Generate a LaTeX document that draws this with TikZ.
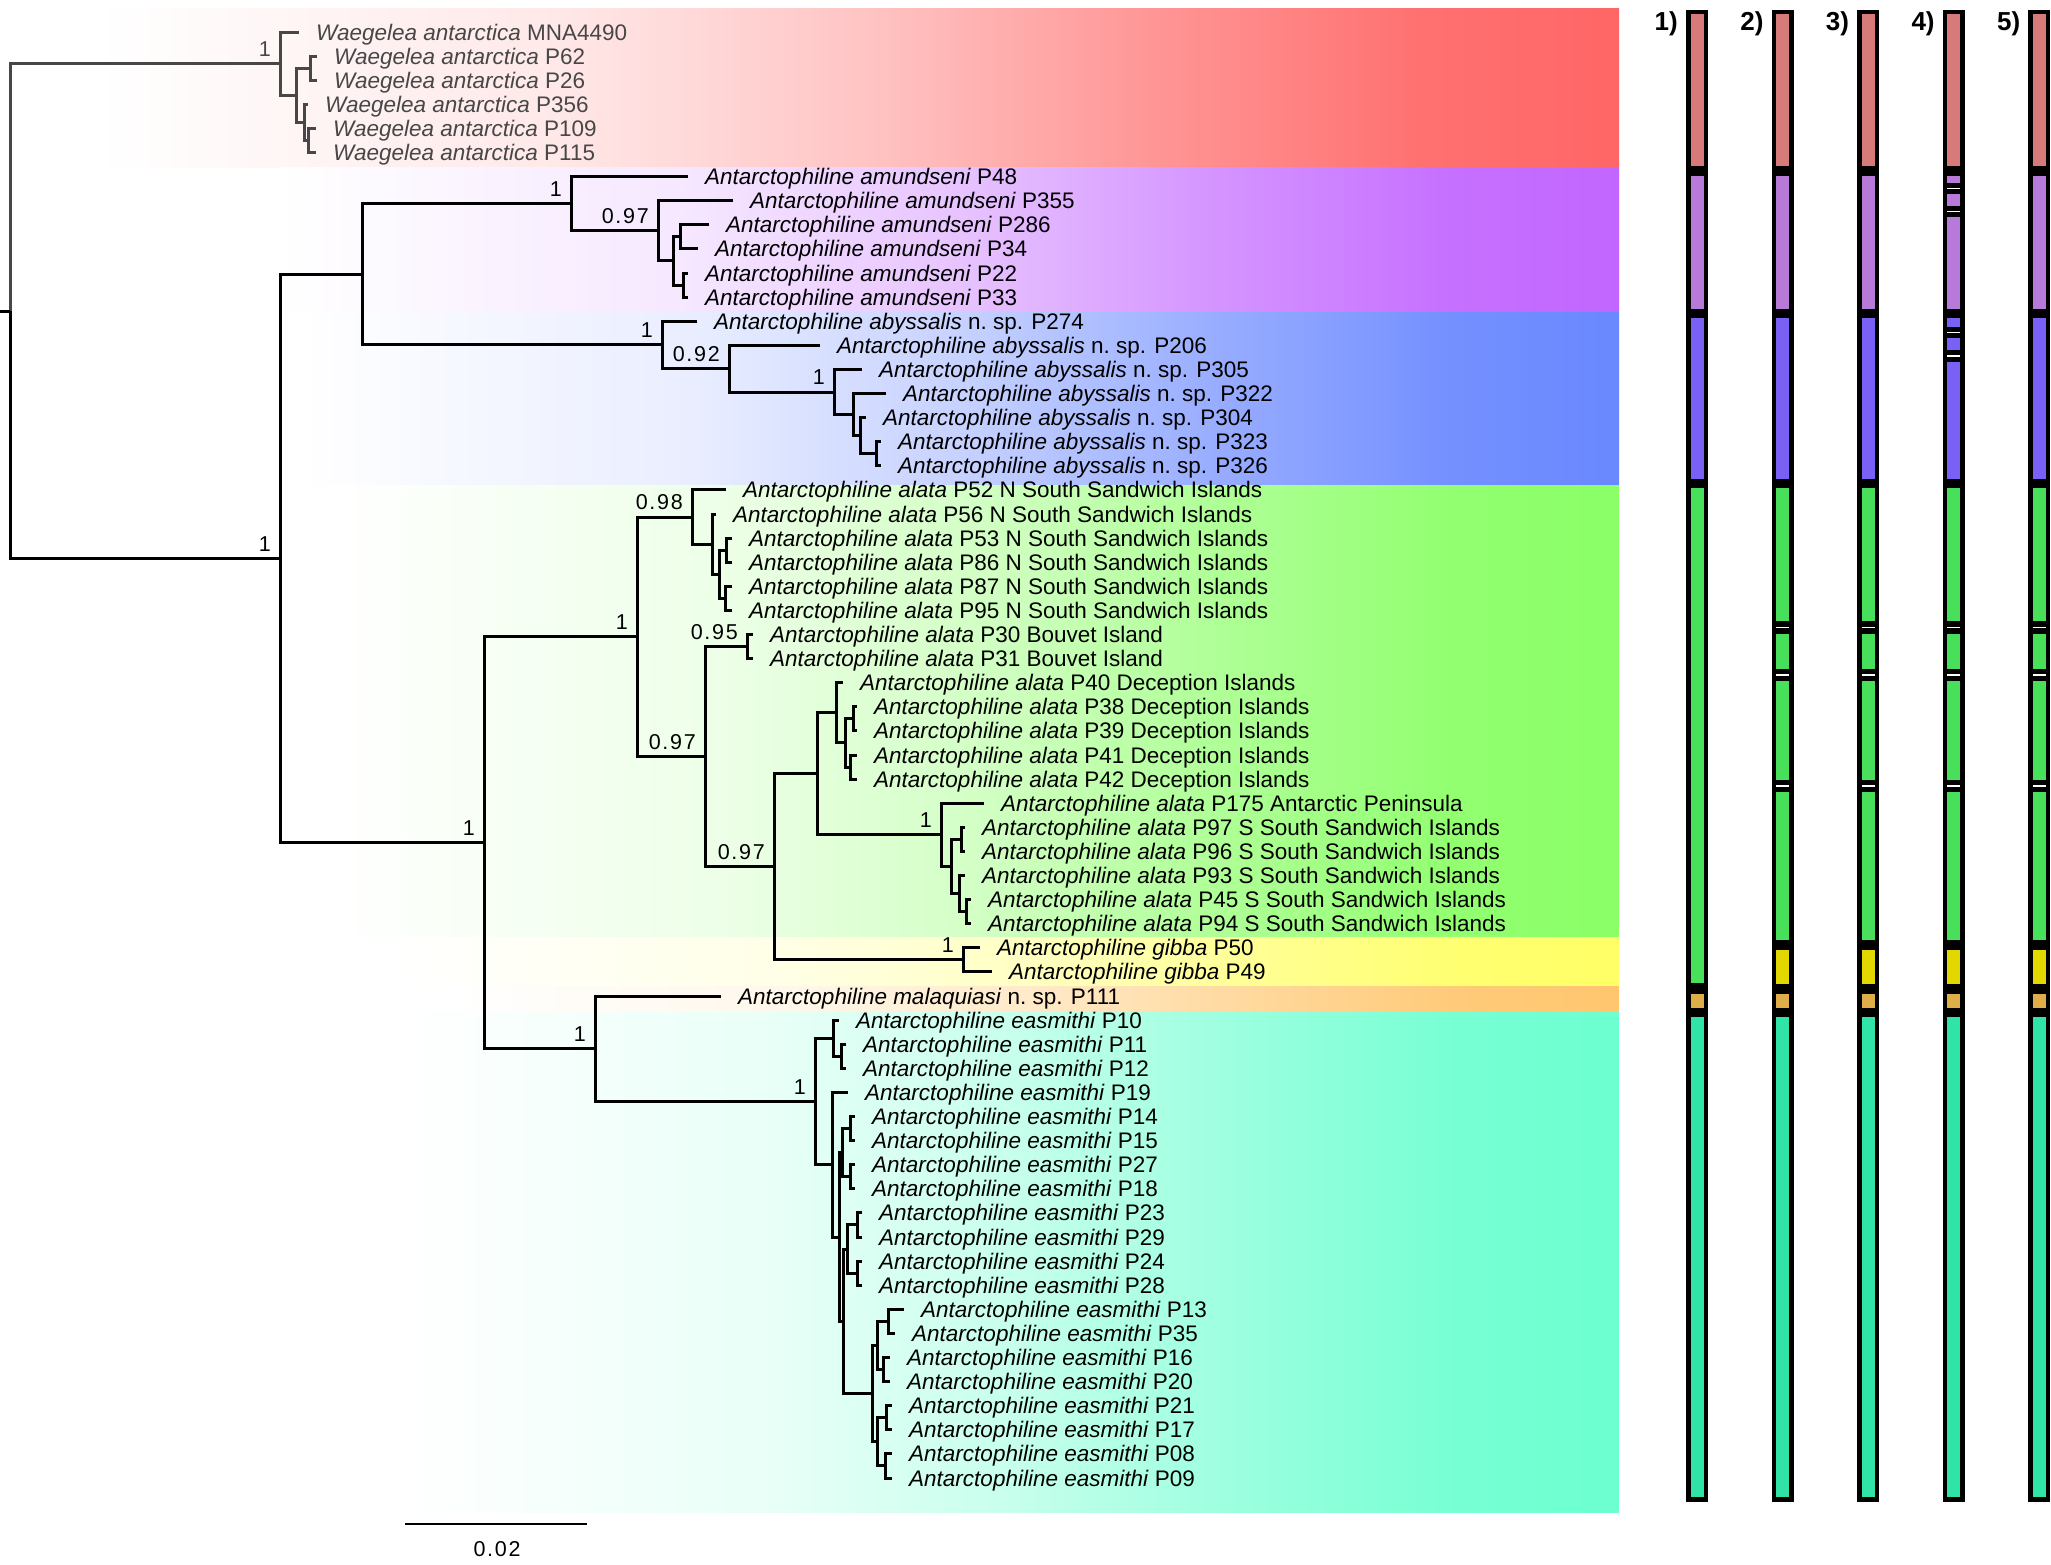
\documentclass[tikz,border=0pt]{standalone}
\usepackage{fontspec}
\setmainfont{Liberation Sans}
\newfontfamily\supfont[LetterSpace=8]{Liberation Sans}
\usetikzlibrary{positioning}

% band colours (right end of each clade band)
\definecolor{bandred}{HTML}{FF6666}
\definecolor{bandpurple}{HTML}{C266FF}
\definecolor{bandblue}{HTML}{6A88FF}
\definecolor{bandgreen}{HTML}{8AFF66}
\definecolor{bandyellow}{HTML}{FFFF66}
\definecolor{bandorange}{HTML}{FFC66E}
\definecolor{bandteal}{HTML}{6CFFCF}
% bar colours
\definecolor{barred}{HTML}{D77A7A}
\definecolor{barpurple}{HTML}{B77AD8}
\definecolor{barblue}{HTML}{7B60F6}
\definecolor{bargreen}{HTML}{48E05A}
\definecolor{baryellow}{HTML}{E2D800}
\definecolor{barorange}{HTML}{E0AE48}
\definecolor{barteal}{HTML}{30E4A8}
\colorlet{waegrey}{black!72}
\colorlet{bandcol}{white}

\pgfdeclarehorizontalshading[bandcol]{bandfade}{100bp}{color(0bp)=(white); color(25bp)=(white);
  color(40bp)=(bandcol!15!white); color(50bp)=(bandcol!38!white); color(60bp)=(bandcol!70!white);
  color(68.5bp)=(bandcol!93!white); color(75bp)=(bandcol); color(100bp)=(bandcol)}

\newcommand{\wae}{\color{waegrey}\textit{Waegelea antarctica}}
\newcommand{\amu}{\textit{Antarctophiline amundseni}}
\newcommand{\aby}{\textit{Antarctophiline abyssalis} n.\ sp.}
\newcommand{\ala}{\textit{Antarctophiline alata}}
\newcommand{\gib}{\textit{Antarctophiline gibba}}
\newcommand{\mal}{\textit{Antarctophiline malaquiasi} n.\ sp.}
\newcommand{\eas}{\textit{Antarctophiline easmithi}}

\begin{document}
\begin{tikzpicture}[x=1pt, y=-1pt,
    branch/.style={line width=3pt},
    leaf/.style={font=\fontsize{22.5}{27}\selectfont, inner sep=0pt, text height=16.1pt, text depth=0pt},
    supfnt/.style={font=\supfont\fontsize{21.5}{26}\selectfont, inner sep=0pt, text height=15.4pt, text depth=0pt},
    support/.style={supfnt, anchor=south east, xshift=-9pt, yshift=7pt},
    barlab/.style={font=\bfseries\fontsize{26}{30}\selectfont, inner sep=0pt}]

    \useasboundingbox (0,0) rectangle (2051,1564);

    % Shade the clade bands
    \colorlet{bandcol}{bandred}\shade[shading=bandfade] (100,8) rectangle (1619,167);
    \colorlet{bandcol}{bandpurple}\shade[shading=bandfade] (280,167) rectangle (1619,312);
    \colorlet{bandcol}{bandblue}\shade[shading=bandfade] (300,312) rectangle (1619,485);
    \colorlet{bandcol}{bandgreen}\shade[shading=bandfade] (330,485) rectangle (1619,937);
    \colorlet{bandcol}{bandyellow}\shade[shading=bandfade] (400,937) rectangle (1619,986);
    \colorlet{bandcol}{bandorange}\shade[shading=bandfade] (450,986) rectangle (1619,1011);
    \colorlet{bandcol}{bandteal}\shade[shading=bandfade] (400,1011) rectangle (1619,1512);

    % Leaves: tip and label
    \foreach \i/\x/\txt in {
        0/299/\wae{} MNA4490, 1/317/\wae{} P62, 2/317/\wae{} P26,
        3/308/\wae{} P356, 4/316/\wae{} P109, 5/316/\wae{} P115,
        6/688/\amu{} P48, 7/733/\amu{} P355, 8/709/\amu{} P286,
        9/698/\amu{} P34, 10/688/\amu{} P22, 11/688/\amu{} P33,
        12/697/\aby{} P274, 13/820/\aby{} P206, 14/862/\aby{} P305,
        15/886/\aby{} P322, 16/866/\aby{} P304, 17/881/\aby{} P323,
        18/881/\aby{} P326,
        19/726/\ala{} P52 N South Sandwich Islands,
        20/716/\ala{} P56 N South Sandwich Islands,
        21/732/\ala{} P53 N South Sandwich Islands,
        22/732/\ala{} P86 N South Sandwich Islands,
        23/732/\ala{} P87 N South Sandwich Islands,
        24/732/\ala{} P95 N South Sandwich Islands,
        25/753/\ala{} P30 Bouvet Island,
        26/753/\ala{} P31 Bouvet Island,
        27/843/\ala{} P40 Deception Islands,
        28/857/\ala{} P38 Deception Islands,
        29/857/\ala{} P39 Deception Islands,
        30/857/\ala{} P41 Deception Islands,
        31/857/\ala{} P42 Deception Islands,
        32/984/\ala{} P175 Antarctic Peninsula,
        33/965/\ala{} P97 S South Sandwich Islands,
        34/965/\ala{} P96 S South Sandwich Islands,
        35/965/\ala{} P93 S South Sandwich Islands,
        36/971/\ala{} P45 S South Sandwich Islands,
        37/971/\ala{} P94 S South Sandwich Islands,
        38/980/\gib{} P50, 39/992/\gib{} P49,
        40/721/\mal{} P111,
        41/839/\eas{} P10, 42/846/\eas{} P11, 43/846/\eas{} P12,
        44/848/\eas{} P19, 45/855/\eas{} P14, 46/855/\eas{} P15,
        47/855/\eas{} P27, 48/855/\eas{} P18, 49/862/\eas{} P23,
        50/862/\eas{} P29, 51/862/\eas{} P24, 52/862/\eas{} P28,
        53/904/\eas{} P13, 54/895/\eas{} P35, 55/890/\eas{} P16,
        56/890/\eas{} P20, 57/892/\eas{} P21, 58/892/\eas{} P17,
        59/892/\eas{} P08, 60/892/\eas{} P09}{
        \coordinate (t\i) at (\x,{32+24.1*\i});
        \node[leaf, right=17pt of t\i] (l\i) {\txt};
    }

    % Internal nodes
    \coordinate (root) at (10,311.1);
    \coordinate (stub) at (0,311.1);
    \coordinate (wA) at (308,140.45);
    \coordinate (wB) at (304,122.4);
    \coordinate (wC) at (310,68.15);
    \coordinate (wD) at (296,95.3);
    \coordinate (wE) at (280,63.6);
    \coordinate (r1) at (280,558.55);
    \coordinate (c1) at (362,274.3);
    % amundseni
    \coordinate (a1) at (680,236.85);
    \coordinate (a2) at (683,285.05);
    \coordinate (a3) at (673,260.95);
    \coordinate (a4) at (658,230.8);
    \coordinate (a5) at (571,203.7);
    % abyssalis
    \coordinate (b1) at (876,453.75);
    \coordinate (b2) at (860,435.7);
    \coordinate (b3) at (853,414.6);
    \coordinate (b4) at (834,392);
    \coordinate (b5) at (729,368.65);
    \coordinate (b6) at (662,344.9);
    % alata and gibba
    \coordinate (d1) at (726,550.15);
    \coordinate (d2) at (725,598.35);
    \coordinate (d3) at (719,574.25);
    \coordinate (d4) at (712,544.1);
    \coordinate (d5) at (692,517);
    \coordinate (e1) at (747,646.55);
    \coordinate (f1) at (853,718.85);
    \coordinate (f2) at (850,767.05);
    \coordinate (f3) at (845,742.95);
    \coordinate (f4) at (836,712.8);
    \coordinate (g1) at (961,839.35);
    \coordinate (g2) at (966,911.65);
    \coordinate (g3) at (959,893.6);
    \coordinate (g4) at (951,866.5);
    \coordinate (g5) at (941,834.85);
    \coordinate (h1) at (817,773.8);
    \coordinate (i1) at (963,959.85);
    \coordinate (h2) at (774,866.8);
    \coordinate (h3) at (705,756.7);
    \coordinate (h4) at (637,636.85);
    \coordinate (h5) at (484,842.8);
    % malaquiasi and easmithi
    \coordinate (m1) at (595,1048.7);
    \coordinate (k1) at (841,1056.25);
    \coordinate (k2) at (833,1038.2);
    \coordinate (k3) at (850,1128.55);
    \coordinate (k4) at (850,1176.75);
    \coordinate (k5) at (842,1152.65);
    \coordinate (k6) at (857,1224.95);
    \coordinate (k7) at (857,1273.15);
    \coordinate (k8) at (847,1249.05);
    \coordinate (k9) at (888,1321.35);
    \coordinate (k10) at (883,1369.55);
    \coordinate (k11) at (877,1345.45);
    \coordinate (k12) at (886,1417.75);
    \coordinate (k13) at (885,1465.95);
    \coordinate (k14) at (877,1441.85);
    \coordinate (k15) at (872,1393.65);
    \coordinate (k16) at (843,1321.35);
    \coordinate (k17) at (839,1237);
    \coordinate (k18) at (832,1164.7);
    \coordinate (k19) at (815,1101.45);

    % Branches of the outgroup
    \foreach \p/\c in {root/wE, wE/t0, wE/wD, wD/wC, wD/wB, wC/t1, wC/t2,
        wB/t3, wB/wA, wA/t4, wA/t5}
        \draw[branch, waegrey] (\p) |- (\c);
    % Branches of the ingroup
    \draw[branch] (root) -- (stub);
    \foreach \p/\c in {root/r1, r1/c1, r1/h5, c1/a5, c1/b6,
        a5/t6, a5/a4, a4/t7, a4/a3, a3/a1, a3/a2, a1/t8, a1/t9, a2/t10, a2/t11,
        b6/t12, b6/b5, b5/t13, b5/b4, b4/t14, b4/b3, b3/t15, b3/b2, b2/t16,
        b2/b1, b1/t17, b1/t18,
        h5/h4, h5/m1, h4/d5, h4/h3,
        d5/t19, d5/d4, d4/t20, d4/d3, d3/d1, d3/d2, d1/t21, d1/t22, d2/t23, d2/t24,
        h3/e1, h3/h2, e1/t25, e1/t26, h2/h1, h2/i1, i1/t38, i1/t39,
        h1/f4, h1/g5, f4/t27, f4/f3, f3/f1, f3/f2, f1/t28, f1/t29, f2/t30, f2/t31,
        g5/t32, g5/g4, g4/g1, g4/g3, g1/t33, g1/t34, g3/t35, g3/g2, g2/t36, g2/t37,
        m1/t40, m1/k19, k19/k2, k19/k18, k2/t41, k2/k1, k1/t42, k1/t43,
        k18/t44, k18/k17, k17/k5, k17/k16, k5/k3, k5/k4, k3/t45, k3/t46,
        k4/t47, k4/t48, k16/k8, k16/k15, k8/k6, k8/k7, k6/t49, k6/t50,
        k7/t51, k7/t52, k15/k11, k15/k14, k11/k9, k11/k10, k9/t53, k9/t54,
        k10/t55, k10/t56, k14/k12, k14/k13, k12/t57, k12/t58, k13/t59, k13/t60}
        \draw[branch] (\p) |- (\c);

    % Posterior probabilities
    \node[support, text=waegrey] (s1) at (wE) {1};
    \node[support] (s2) at (r1) {1};
    \node[support] (s3) at (a5) {1};
    \node[support] (s4) at (a4) {0.97};
    \node[support] (s5) at (b6) {1};
    \node[support] (s6) at (b5) {0.92};
    \node[support] (s7) at (b4) {1};
    \node[support] (s8) at (h5) {1};
    \node[support] (s9) at (h4) {1};
    \node[support] (s10) at (d5) {0.98};
    \node[support] (s11) at (h3) {0.97};
    \node[support] (s12) at (e1) {0.95};
    \node[support] (s13) at (h2) {0.97};
    \node[support] (s14) at (g5) {1};
    \node[support] (s15) at (i1) {1};
    \node[support] (s16) at (m1) {1};
    \node[support] (s17) at (k19) {1};

    % Scale bar
    \coordinate (sbL) at (405,1524);
    \coordinate (sbR) at (587,1524);
    \draw[line width=2.7pt] (sbL) -- (sbR);
    \node[supfnt, anchor=north] (sbtext) at (497,1541) {0.02};

    % Species delimitation bars
    \foreach \k/\cx in {1/1697, 2/1782.6, 3/1868.2, 4/1953.8, 5/2039.4}{
        \fill[black] (\cx-11,10) rectangle (\cx+11,1502);
        \coordinate (bar\k) at (\cx-11,24);
        \node[barlab, anchor=east] (bl\k) at ([xshift=-8pt]bar\k) {\k)};
        \fill[barred] (\cx-6.5,14) rectangle (\cx+6.5,166);
        \fill[barpurple] (\cx-6.5,176) rectangle (\cx+6.5,309);
        \fill[barblue] (\cx-6.5,318) rectangle (\cx+6.5,479);
        \fill[barorange] (\cx-6.5,994) rectangle (\cx+6.5,1008);
        \fill[barteal] (\cx-6.5,1017) rectangle (\cx+6.5,1497);
        \ifnum\k=1
            \fill[bargreen] (\cx-6.5,488) rectangle (\cx+6.5,983);
        \else
            \fill[bargreen] (\cx-6.5,488) rectangle (\cx+6.5,621);
            \fill[bargreen] (\cx-6.5,634) rectangle (\cx+6.5,669);
            \fill[bargreen] (\cx-6.5,681) rectangle (\cx+6.5,780);
            \fill[bargreen] (\cx-6.5,792) rectangle (\cx+6.5,940);
            \fill[baryellow] (\cx-6.5,950) rectangle (\cx+6.5,984);
            \foreach \yy in {627.5, 675, 786}
                \draw[white, line width=1.6pt] (\cx-6.5,\yy) -- (\cx+6.5,\yy);
        \fi
        \ifnum\k=4
            \foreach \ya/\yb in {183/194, 206/217, 327/338, 350/362}{
                \fill[black] (\cx-6.5,\ya) rectangle (\cx+6.5,\yb);
                \draw[white, line width=1.6pt] (\cx-6.5,{(\ya+\yb)/2}) -- (\cx+6.5,{(\ya+\yb)/2});
            }
        \fi
    }
\end{tikzpicture}
\end{document}
